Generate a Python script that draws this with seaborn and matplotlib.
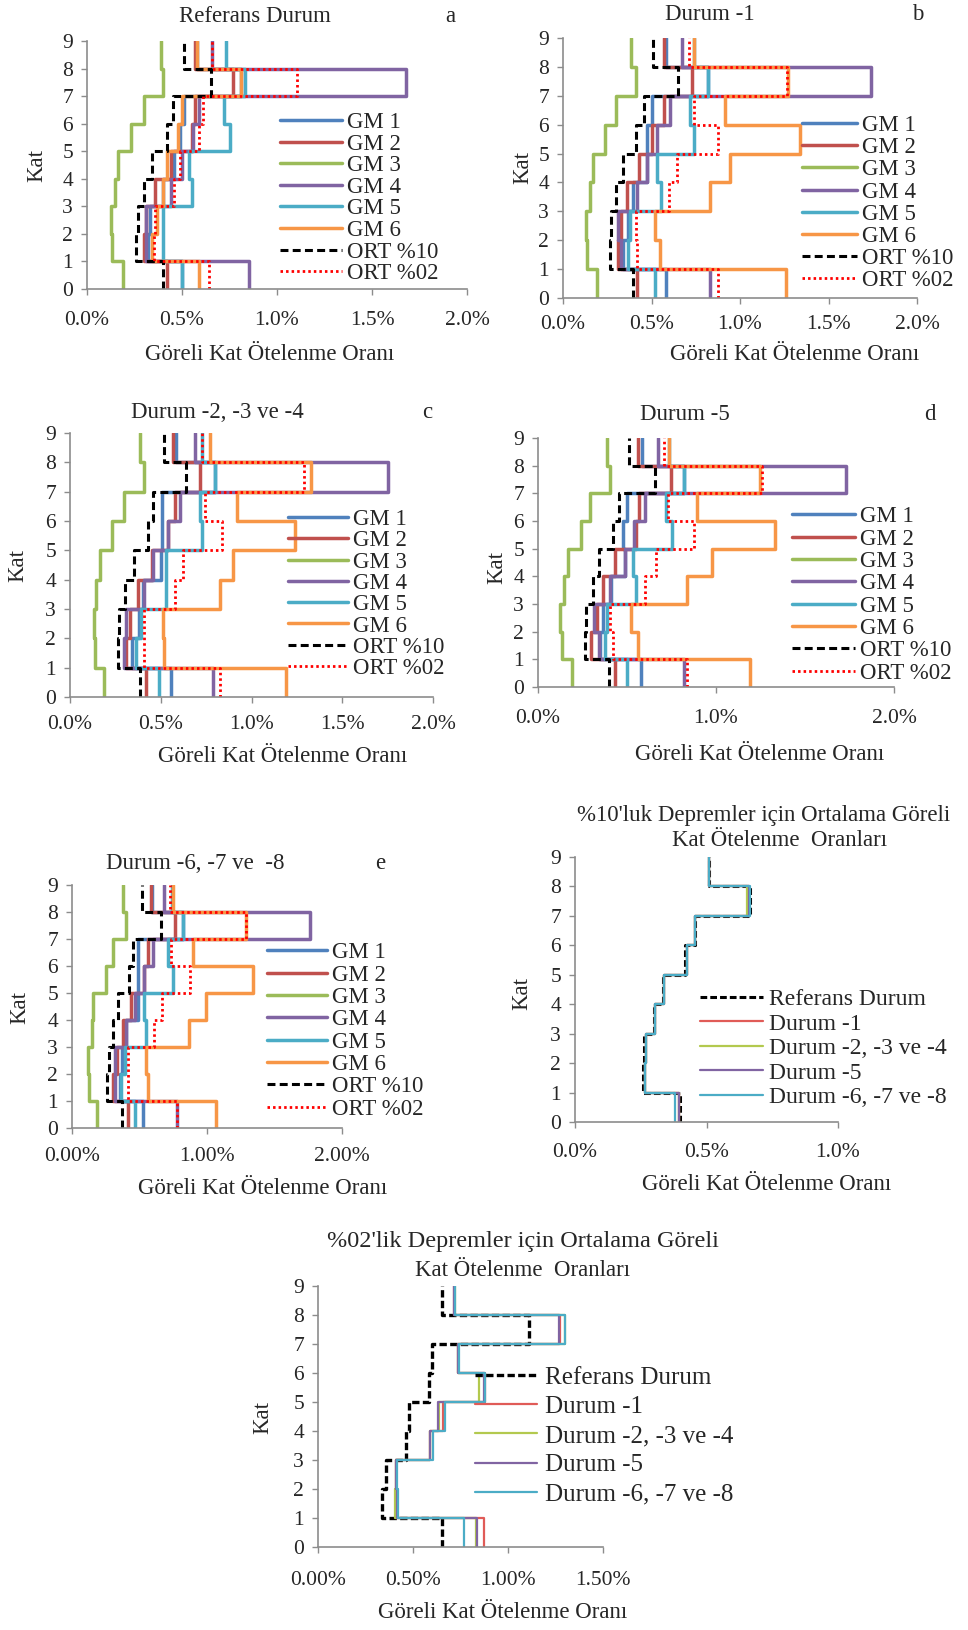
import numpy as np
import matplotlib
matplotlib.use("Agg")
import matplotlib.pyplot as plt
import seaborn as sns
from matplotlib.ticker import FixedLocator, FuncFormatter

W, H = 968, 1630
sns.set_theme(style="white")
plt.rcParams["font.family"] = ["Liberation Serif", "DejaVu Serif"]

# ---------------- data (percent drift per storey, storey segments 0-1 ... 8-9) ----------------
KAT = list(range(10))
GM_NAMES = ["GM 1", "GM 2", "GM 3", "GM 4", "GM 5", "GM 6"]
ORT_NAMES = ["ORT %10", "ORT %02"]

# Panel a: Referans Durum
a_gm1 = [0.50, 0.32, 0.33, 0.40, 0.46, 0.49, 0.51, 0.81, 0.58]
a_gm2 = [0.42, 0.30, 0.31, 0.36, 0.44, 0.55, 0.57, 0.77, 0.57]
a_gm3 = [0.19, 0.13, 0.125, 0.145, 0.165, 0.23, 0.30, 0.40, 0.39]
a_gm4 = [0.85, 0.31, 0.31, 0.44, 0.50, 0.56, 0.59, 1.68, 0.66]
a_gm5 = [0.50, 0.40, 0.40, 0.555, 0.537, 0.753, 0.72, 0.83, 0.73]
a_gm6 = [0.59, 0.34, 0.37, 0.40, 0.42, 0.48, 0.50, 0.81, 0.58]
a_ort10 = [0.40, 0.26, 0.27, 0.30, 0.34, 0.42, 0.45, 0.655, 0.51]
a_ort02 = [0.64, 0.35, 0.36, 0.46, 0.49, 0.59, 0.61, 1.105, 0.66]

# Panel b: Durum -1
b_gm1 = [0.58, 0.34, 0.37, 0.395, 0.475, 0.475, 0.50, 0.82, 0.58]
b_gm2 = [0.42, 0.31, 0.33, 0.36, 0.43, 0.50, 0.57, 0.73, 0.57]
b_gm3 = [0.19, 0.135, 0.13, 0.15, 0.17, 0.235, 0.30, 0.41, 0.385]
b_gm4 = [0.83, 0.33, 0.31, 0.42, 0.475, 0.53, 0.605, 1.74, 0.67]
b_gm5 = [0.52, 0.37, 0.38, 0.555, 0.53, 0.74, 0.72, 0.82, 0.74]
b_gm6 = [1.26, 0.55, 0.52, 0.83, 0.945, 1.34, 0.915, 1.27, 0.74]
b_ort10 = [0.395, 0.265, 0.27, 0.30, 0.34, 0.415, 0.455, 0.65, 0.51]
b_ort02 = [0.875, 0.42, 0.41, 0.60, 0.645, 0.875, 0.74, 1.265, 0.71]

# Panel c: Durum -2, -3 ve -4
c_gm1 = [0.555, 0.34, 0.38, 0.40, 0.50, 0.505, 0.505, 0.80, 0.585]
c_gm2 = [0.42, 0.31, 0.33, 0.375, 0.45, 0.54, 0.58, 0.715, 0.57]
c_gm3 = [0.19, 0.135, 0.13, 0.145, 0.165, 0.23, 0.295, 0.41, 0.385]
c_gm4 = [0.79, 0.30, 0.31, 0.405, 0.46, 0.54, 0.605, 1.75, 0.69]
c_gm5 = [0.49, 0.365, 0.39, 0.53, 0.53, 0.725, 0.715, 0.80, 0.725]
c_gm6 = [1.19, 0.52, 0.51, 0.825, 0.90, 1.24, 0.92, 1.33, 0.77]
c_ort10 = [0.385, 0.265, 0.27, 0.305, 0.35, 0.43, 0.46, 0.64, 0.52]
c_ort02 = [0.825, 0.41, 0.41, 0.58, 0.625, 0.835, 0.745, 1.29, 0.725]

# Panel d: Durum -5
d_gm1 = [0.58, 0.35, 0.365, 0.41, 0.49, 0.48, 0.50, 0.82, 0.585]
d_gm2 = [0.435, 0.30, 0.33, 0.365, 0.43, 0.55, 0.565, 0.745, 0.56]
d_gm3 = [0.19, 0.135, 0.125, 0.145, 0.17, 0.24, 0.29, 0.405, 0.385]
d_gm4 = [0.82, 0.345, 0.315, 0.405, 0.49, 0.54, 0.60, 1.73, 0.675]
d_gm5 = [0.50, 0.375, 0.385, 0.55, 0.535, 0.75, 0.72, 0.82, 0.735]
d_gm6 = [1.19, 0.56, 0.525, 0.835, 0.98, 1.33, 0.895, 1.245, 0.735]
d_ort10 = [0.40, 0.265, 0.27, 0.31, 0.345, 0.42, 0.455, 0.655, 0.51]
d_ort02 = [0.835, 0.42, 0.405, 0.60, 0.665, 0.875, 0.73, 1.26, 0.71]

# Panel e: Durum -6, -7 ve -8
e_gm1 = [0.525, 0.355, 0.37, 0.40, 0.49, 0.49, 0.49, 0.82, 0.595]
e_gm2 = [0.415, 0.305, 0.33, 0.38, 0.44, 0.53, 0.565, 0.76, 0.585]
e_gm3 = [0.185, 0.125, 0.12, 0.145, 0.155, 0.255, 0.305, 0.40, 0.38]
e_gm4 = [0.775, 0.315, 0.315, 0.40, 0.465, 0.53, 0.60, 1.76, 0.685]
e_gm5 = [0.465, 0.365, 0.39, 0.55, 0.53, 0.745, 0.71, 0.82, 0.74]
e_gm6 = [1.065, 0.565, 0.545, 0.87, 0.995, 1.34, 0.895, 1.29, 0.75]
e_ort10 = [0.37, 0.26, 0.275, 0.305, 0.34, 0.425, 0.45, 0.66, 0.515]
e_ort02 = [0.775, 0.415, 0.415, 0.605, 0.665, 0.875, 0.73, 1.29, 0.725]

# Panel f: %10 averages
CASE_NAMES = ["Referans Durum", "Durum -1", "Durum -2, -3 ve -4", "Durum -5", "Durum -6, -7 ve -8"]
f_ref = [0.40, 0.257, 0.263, 0.30, 0.335, 0.418, 0.455, 0.665, 0.51]
f_d1 = [0.395, 0.265, 0.27, 0.305, 0.34, 0.425, 0.458, 0.66, 0.51]
f_d2 = [0.395, 0.265, 0.27, 0.305, 0.34, 0.425, 0.458, 0.655, 0.51]
f_d5 = [0.395, 0.265, 0.27, 0.305, 0.34, 0.425, 0.458, 0.66, 0.51]
f_d6 = [0.38, 0.266, 0.27, 0.305, 0.34, 0.425, 0.458, 0.665, 0.51]

# Panel g: %02 averages
g_ref = [0.65, 0.337, 0.36, 0.465, 0.48, 0.585, 0.60, 1.11, 0.653]
g_d1 = [0.875, 0.415, 0.41, 0.59, 0.66, 0.88, 0.737, 1.275, 0.717]
g_d2 = [0.83, 0.407, 0.41, 0.59, 0.635, 0.845, 0.737, 1.30, 0.72]
g_d5 = [0.835, 0.415, 0.41, 0.59, 0.633, 0.875, 0.737, 1.27, 0.717]
g_d6 = [0.77, 0.42, 0.415, 0.605, 0.67, 0.88, 0.74, 1.30, 0.72]

GM_COLORS = ["#4F81BD", "#C0504D", "#9BBB59", "#8064A2", "#4BACC6", "#F79646"]
CASE_COLORS = ["black", "#E05B57", "#B3C94E", "#8064A2", "#4BACC6"]
AXIS_GRAY = "#8C8C8C"
TICK_FS = 15.5

fig = plt.figure(figsize=(W / 100, H / 100), dpi=100)


def add_ax(l, r, t, b):
    return fig.add_axes([l / W, 1 - b / H, (r - l) / W, (b - t) / H])


def to_ax(ax, x, y):
    bb = ax.get_position()
    fx, fy = x / W, 1 - y / H
    return ((fx - bb.x0) / bb.width, (fy - bb.y0) / bb.height)


def step_xy(vals):
    xs = np.repeat(np.asarray(vals, float), 2)
    ys = np.repeat(np.asarray(KAT, float), 2)[1:-1]
    return xs, ys


def draw(ax, vals, color, lw, ls, label):
    xs, ys = step_xy(vals)
    sns.lineplot(x=xs, y=ys, sort=False, estimator=None, color=color,
                 linewidth=lw, linestyle=ls, label=label, ax=ax)


def style_ax(ax, xticks, fmt, xlab_pad):
    ax.set_ylim(0, 9)
    ax.set_xlim(xticks[0], xticks[-1])
    ax.yaxis.set_major_locator(FixedLocator(KAT))
    ax.xaxis.set_major_locator(FixedLocator(xticks))
    ax.xaxis.set_major_formatter(FuncFormatter(lambda v, p: fmt.format(v)))
    for s in ["top", "right"]:
        ax.spines[s].set_visible(False)
    for s in ["left", "bottom"]:
        ax.spines[s].set_color(AXIS_GRAY)
        ax.spines[s].set_linewidth(1.2)
    ax.tick_params(axis="x", direction="out", length=4, width=1, color=AXIS_GRAY,
                   labelsize=TICK_FS, pad=xlab_pad, bottom=True)
    ax.tick_params(axis="y", direction="out", length=4, width=1, color=AXIS_GRAY,
                   labelsize=TICK_FS, pad=6, left=True)
    ax.set_facecolor("none")
    ax.grid(False)
    ax.set_xlabel("")
    ax.set_ylabel("")


def put_labels(ax, title, title_xy, letter, letter_xy, ylab_xy, xlab_xy, fs=16.5):
    ax.text(*to_ax(ax, *title_xy), title, transform=ax.transAxes, ha="center",
            va="center", fontsize=fs, clip_on=False)
    if letter:
        ax.text(*to_ax(ax, *letter_xy), letter, transform=ax.transAxes, ha="center",
                va="center", fontsize=fs, clip_on=False)
    ax.set_ylabel("Kat", fontsize=fs)
    ax.yaxis.set_label_coords(*to_ax(ax, *ylab_xy))
    ax.set_xlabel("Göreli Kat Ötelenme Oranı", fontsize=fs)
    ax.xaxis.set_label_coords(*to_ax(ax, *xlab_xy))
    ax.xaxis.label.set_va("center")
    ax.yaxis.label.set_va("center")


def put_legend(ax, x0, y_first, step, fs, line_px, gap_px):
    fs_px = fs * 100 / 72
    h = 0.95 * fs_px
    handles, labels = ax.get_legend_handles_labels()
    top = y_first - h / 2
    leg = ax.legend(handles, labels, loc="upper left",
                    bbox_to_anchor=(x0 / W, 1 - top / H), bbox_transform=fig.transFigure,
                    frameon=False, fontsize=fs, borderpad=0, borderaxespad=0,
                    handlelength=line_px / fs_px, handletextpad=gap_px / fs_px,
                    labelspacing=(step - h) / fs_px)
    return leg


def gm_panel(rect, gms, ort10, ort02, xticks, fmt, xlab_pad, title, title_xy, letter,
             letter_xy, ylab_xy, xlab_xy, leg):
    ax = add_ax(*rect)
    for vals, col, name in zip(gms, GM_COLORS, GM_NAMES):
        draw(ax, vals, col, 2.5, "-", name)
    draw(ax, ort10, "black", 2.2, (0, (2.6, 1.4)), ORT_NAMES[0])
    draw(ax, ort02, "#FF0000", 2.0, (0, (0.9, 1.1)), ORT_NAMES[1])
    style_ax(ax, xticks, fmt, xlab_pad)
    put_labels(ax, title, title_xy, letter, letter_xy, ylab_xy, xlab_xy)
    put_legend(ax, *leg)
    return ax


X2 = [0.0, 0.5, 1.0, 1.5, 2.0]

gm_panel((87, 467, 41, 289), [a_gm1, a_gm2, a_gm3, a_gm4, a_gm5, a_gm6], a_ort10, a_ort02,
         X2, "{:.1f}%", 12, "Referans Durum", (255, 17), "a", (450, 17), (37, 165), (270, 355),
         (280, 123, 22.3, 16.5, 62, 5))

gm_panel((563, 917, 38, 298), [b_gm1, b_gm2, b_gm3, b_gm4, b_gm5, b_gm6], b_ort10, b_ort02,
         X2, "{:.1f}%", 8, "Durum -1", (710, 15), "b", (918, 15), (523, 168), (795, 355),
         (802, 126, 22.9, 16.5, 55, 5))

gm_panel((70, 433, 433, 697), [c_gm1, c_gm2, c_gm3, c_gm4, c_gm5, c_gm6], c_ort10, c_ort02,
         X2, "{:.1f}%", 9, "Durum -2, -3 ve -4", (217, 413), "c", (427, 413), (18, 565),
         (283, 757), (288, 520, 22.0, 16.5, 60, 5))

gm_panel((538, 894, 438, 687), [d_gm1, d_gm2, d_gm3, d_gm4, d_gm5, d_gm6], d_ort10, d_ort02,
         [0.0, 1.0, 2.0], "{:.1f}%", 12, "Durum -5", (685, 415), "d", (930, 415), (497, 567),
         (760, 755), (792, 517, 23.1, 16.5, 63, 5))

gm_panel((72, 342, 885, 1128), [e_gm1, e_gm2, e_gm3, e_gm4, e_gm5, e_gm6], e_ort10, e_ort02,
         [0.0, 1.0, 2.0], "{:.2f}%", 10, "Durum -6, -7 ve  -8", (195, 863), "e", (380, 863),
         (20, 1008), (263, 1188), (267, 953, 23.1, 16.5, 60, 5))

# Panel f
axf = add_ax(575, 838, 857, 1122)
for vals, col, name in zip([f_ref, f_d1, f_d2, f_d5, f_d6], CASE_COLORS, CASE_NAMES):
    if name == CASE_NAMES[0]:
        draw(axf, vals, col, 2.2, (0, (2.2, 1.0)), name)
    else:
        draw(axf, vals, col, 1.6, "-", name)
style_ax(axf, [0.0, 0.5, 1.0], "{:.1f}%", 11)
put_labels(axf, "Kat Ötelenme  Oranları", (780, 840), None, None, (522, 993), (767, 1185))
axf.text(*to_ax(axf, 577, 815), "%10'luk Depremler için Ortalama Göreli", transform=axf.transAxes,
         ha="left", va="center", fontsize=16.5, clip_on=False)
put_legend(axf, 700, 1000, 25.3, 17, 63, 6)

# Panel g
axg = add_ax(318, 603, 1286, 1547)
for vals, col, name in zip([g_ref, g_d1, g_d2, g_d5, g_d6], CASE_COLORS, CASE_NAMES):
    if name == CASE_NAMES[0]:
        draw(axg, vals, col, 2.4, (0, (2.2, 1.0)), name)
    else:
        draw(axg, vals, col, 1.6, "-", name)
style_ax(axg, [0.0, 0.5, 1.0, 1.5], "{:.2f}%", 13)
put_labels(axg, "Kat Ötelenme  Oranları", (523, 1270), None, None, (263, 1417), (503, 1613))
axg.text(*to_ax(axg, 523, 1242), "%02'lik Depremler için Ortalama Göreli", transform=axg.transAxes,
         ha="center", va="center", fontsize=17.5, clip_on=False)
put_legend(axg, 475, 1378, 30.5, 18, 62, 8)

fig.savefig("out.png", dpi=100, facecolor="white")
